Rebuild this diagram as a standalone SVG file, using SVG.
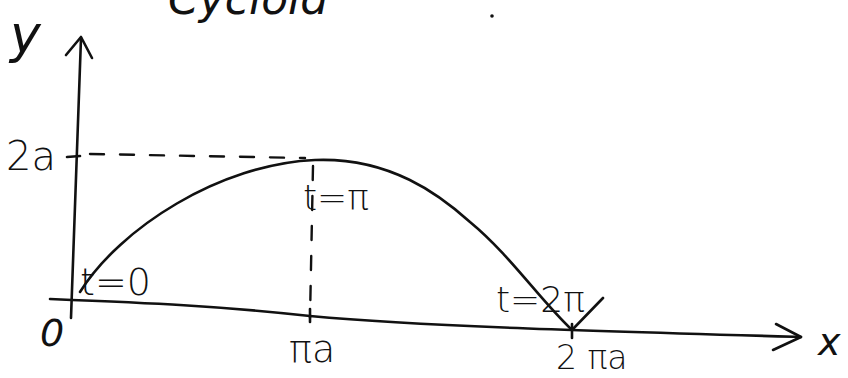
<svg xmlns="http://www.w3.org/2000/svg" width="848" height="378" viewBox="0 0 848 378">
<style>
.ln{fill:none;stroke:#111;stroke-width:2.6;stroke-linecap:round;stroke-linejoin:round}
.dash{fill:none;stroke:#111;stroke-width:2.4;stroke-dasharray:14 16;stroke-linecap:round}
.t{font-family:"DejaVu Sans","Liberation Sans",sans-serif;fill:#111;font-weight:300}
</style>
<rect width="848" height="378" fill="#fff"/>
<g id="title"><text class="t" x="168" y="14" font-size="44" font-style="italic">Cycloid</text><circle cx="492" cy="16" r="1.8" fill="#111"/></g>
<g id="axes">
<path class="ln" d="M71,318 L81,38"/>
<path class="ln" d="M66,55 L81,37 L92,58"/>
<path class="ln" d="M50,299 C150,303 220,306 310,316 C420,326 560,330 801,337"/>
<path class="ln" d="M776,324 L801,337 L773,350"/>
<path class="ln" d="M67,157 L80,156"/>
<path class="ln" d="M310,309 L310,322"/>
<path class="ln" d="M572,324 L572,338"/>
</g>
<g id="connectors">
<path class="dash" d="M90,154 L305,158"/>
<path class="dash" d="M313,166 L310,318"/>
</g>
<g id="curve">
<path class="ln" d="M80,292 C120,228 220,164 315,160 C390,157 440,195 470,222 C510,255 540,300 572,330 L603,298"/>
</g>
<g id="labels">
<text class="t" x="10" y="52" font-size="52" font-style="italic">y</text>
<text class="t" x="6" y="170" font-size="40">2a</text>
<text class="t" x="40" y="346" font-size="38" font-style="italic">0</text>
<text class="t" x="80" y="295" font-size="38">t=0</text>
<text class="t" x="303" y="210" font-size="36">t=π</text>
<text class="t" x="289" y="362" font-size="38">πa</text>
<text class="t" x="496" y="312" font-size="36">t=2π</text>
<text class="t" x="556" y="369" font-size="33">2 πa</text>
<text class="t" x="818" y="355" font-size="38" font-style="italic">x</text>
</g>
</svg>
